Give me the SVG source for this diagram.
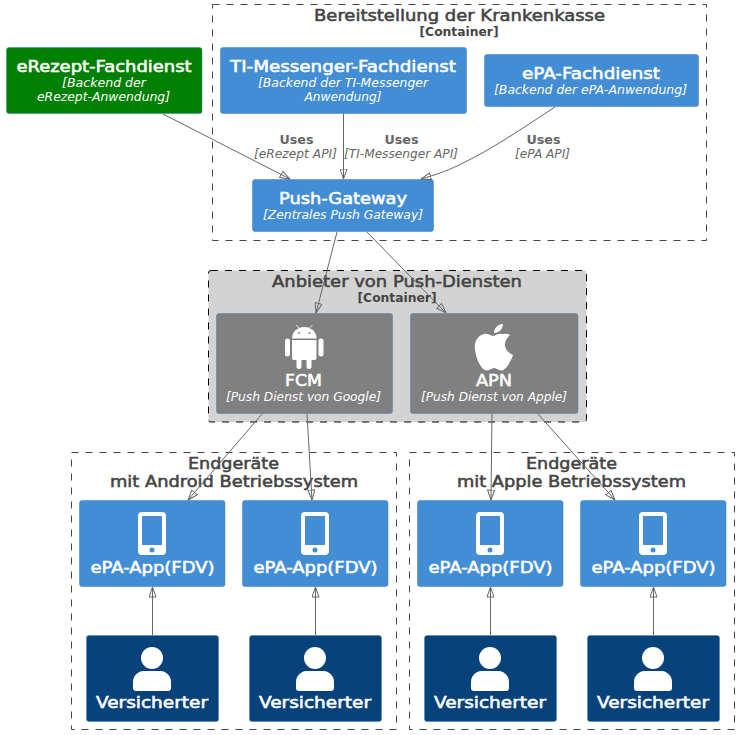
<svg xmlns="http://www.w3.org/2000/svg" width="739" height="735" viewBox="0 0 739 735">
<style>
text{font-family:"DejaVu Sans",Verdana,sans-serif;text-anchor:middle}
.b{fill:none;stroke:#444;stroke-width:1;stroke-dasharray:7 7}
.n{fill:#438DD5;stroke:#3C7FC0;stroke-width:.5}
.t{font-size:16px;fill:#fff;stroke:#fff;stroke-width:.55}
.d{font-size:12px;font-style:italic;fill:#fff}
.h{font-size:16px;fill:#444;stroke:#444;stroke-width:.55}
.c{font-size:12px;font-weight:700;fill:#444}
.l{font-size:12px;font-weight:700;fill:#666}
.li{font-size:12px;font-style:italic;fill:#666}
.e{fill:none;stroke:#666;stroke-width:1;marker-end:url(#a)}
.w{fill:#fff}
</style>
<defs>
<marker id="a" viewBox="0 0 11 8" refX="10.500" refY="4" markerWidth="11" markerHeight="8" markerUnits="userSpaceOnUse" orient="auto"><path d="M0.500 0.500L10.500 4L0.500 7.500Z" fill="none" stroke="#666" stroke-width="1"/></marker>
<g id="phone"><path class="w" fill-rule="evenodd" d="M-10 0H10A4 4 0 0 1 14 4V39A4 4 0 0 1 10 43H-10A4 4 0 0 1 -14 39V4A4 4 0 0 1 -10 0ZM-10 4V33H10V4Z"/><circle cx="0" cy="38" r="2.500" fill="#438DD5"/></g>
<g id="person"><circle class="w" cx="0" cy="11" r="11"/><path class="w" d="M-19 41V35C-19 28-13 24-9 24H9C13 24 19 28 19 35V41C19 43 18 44 16 44H-16C-18 44-19 43-19 41Z"/></g>
</defs>
<g id="boundary-kasse"><rect class="b" x="212.500" y="4.500" width="494" height="236"/><text class="h" x="459.500" y="21" textLength="291" lengthAdjust="spacingAndGlyphs">Bereitstellung der Krankenkasse</text><text class="c" x="459" y="35.500" textLength="79" lengthAdjust="spacingAndGlyphs">[Container]</text></g>
<g id="boundary-push"><rect x="208.500" y="270.500" width="378" height="151.500" rx="2.500" fill="#D3D3D3" stroke="#000" stroke-dasharray="7 7"/><text class="h" x="397" y="287" textLength="250" lengthAdjust="spacingAndGlyphs">Anbieter von Push-Diensten</text><text class="c" x="397" y="301.500" textLength="79" lengthAdjust="spacingAndGlyphs">[Container]</text></g>
<g id="boundary-android"><rect class="b" x="71.500" y="452.500" width="325" height="277"/><text class="h" x="233.500" y="469" textLength="91" lengthAdjust="spacingAndGlyphs">Endgeräte</text><text class="h" x="234" y="487" textLength="248" lengthAdjust="spacingAndGlyphs">mit Android Betriebssystem</text></g>
<g id="boundary-apple"><rect class="b" x="409.500" y="452.500" width="325" height="277"/><text class="h" x="571.500" y="469" textLength="91" lengthAdjust="spacingAndGlyphs">Endgeräte</text><text class="h" x="571.500" y="487" textLength="229" lengthAdjust="spacingAndGlyphs">mit Apple Betriebssystem</text></g>
<g id="erezept"><rect x="6.500" y="47.500" width="195.500" height="66" rx="2.500" fill="#008000" stroke="#3C7FC0" stroke-width=".5"/><text class="t" x="104" y="72" textLength="175" lengthAdjust="spacingAndGlyphs">eRezept-Fachdienst</text><text class="d" x="104" y="87" textLength="84" lengthAdjust="spacingAndGlyphs">[Backend der</text><text class="d" x="103.500" y="101" textLength="133" lengthAdjust="spacingAndGlyphs">eRezept-Anwendung]</text></g>
<g id="ti"><rect class="n" x="220.500" y="47.500" width="246" height="66" rx="2.500"/><text class="t" x="343" y="72" textLength="226" lengthAdjust="spacingAndGlyphs">TI-Messenger-Fachdienst</text><text class="d" x="343" y="87" textLength="170" lengthAdjust="spacingAndGlyphs">[Backend der TI-Messenger</text><text class="d" x="343" y="101" textLength="77" lengthAdjust="spacingAndGlyphs">Anwendung]</text></g>
<g id="epa"><rect class="n" x="484.500" y="54.500" width="214" height="52" rx="2.500"/><text class="t" x="591" y="79" textLength="138" lengthAdjust="spacingAndGlyphs">ePA-Fachdienst</text><text class="d" x="590.500" y="94" textLength="193" lengthAdjust="spacingAndGlyphs">[Backend der ePA-Anwendung]</text></g>
<g id="gateway"><rect class="n" x="252.500" y="179.500" width="181" height="52" rx="2.500"/><text class="t" x="343" y="204" textLength="128" lengthAdjust="spacingAndGlyphs">Push-Gateway</text><text class="d" x="343" y="219" textLength="160" lengthAdjust="spacingAndGlyphs">[Zentrales Push Gateway]</text></g>
<g id="fcm"><rect x="216.500" y="313.500" width="176" height="100" rx="2.500" fill="#808080" stroke="#3C7FC0" stroke-width=".5"/>
<g class="w"><path d="M292 340H316.500V358A2 2 0 0 1 314.500 360H294A2 2 0 0 1 292 358Z"/><path d="M292 338.500A12.250 11.500 0 0 1 316.500 338.500Z"/><rect x="285" y="338.500" width="5" height="18" rx="2.500"/><rect x="318.500" y="338.500" width="5" height="18" rx="2.500"/><rect x="296.500" y="355" width="5" height="14" rx="2.500"/><rect x="306.500" y="355" width="5" height="14" rx="2.500"/></g>
<path d="M299 328L296 325M309.500 328L312.500 325" stroke="#fff" fill="none" stroke-width=".8"/><circle cx="299" cy="333" r="1" fill="#808080"/><circle cx="309.500" cy="333" r="1" fill="#808080"/>
<text class="t" x="303.500" y="386" textLength="37" lengthAdjust="spacingAndGlyphs">FCM</text><text class="d" x="303.500" y="401" textLength="155" lengthAdjust="spacingAndGlyphs">[Push Dienst von Google]</text></g>
<g id="apn"><rect x="410.500" y="313.500" width="167.500" height="100" rx="2.500" fill="#808080" stroke="#3C7FC0" stroke-width=".5"/>
<path class="w" d="M502 334C497 333 496 336 493 336C490 336 488 333 484 334C477 336 474 342 475 350C476 358 481 370.500 487 370.500C490 370.500 491 368 494 368C497 368 498 370.500 501 370.500C506 370.500 511 361 513 355C508 353 505 349 505 345C505 340 508 337 510 335C507 333 504 334 502 334Z"/><path class="w" d="M494 333C494 328 498 324 503 324C503 329 499 333 494 333Z"/>
<text class="t" x="494" y="386" textLength="36" lengthAdjust="spacingAndGlyphs">APN</text><text class="d" x="494" y="401" textLength="146" lengthAdjust="spacingAndGlyphs">[Push Dienst von Apple]</text></g>
<g id="app1"><rect class="n" x="79.500" y="500.500" width="145.500" height="86" rx="2.500"/><use href="#phone" x="152" y="512"/><text class="t" x="152.500" y="573" textLength="124" lengthAdjust="spacingAndGlyphs">ePA-App(FDV)</text></g>
<g id="app2"><rect class="n" x="242.500" y="500.500" width="145.500" height="86" rx="2.500"/><use href="#phone" x="315" y="512"/><text class="t" x="315.500" y="573" textLength="124" lengthAdjust="spacingAndGlyphs">ePA-App(FDV)</text></g>
<g id="app3"><rect class="n" x="417.500" y="500.500" width="145.500" height="86" rx="2.500"/><use href="#phone" x="490" y="512"/><text class="t" x="490.500" y="573" textLength="124" lengthAdjust="spacingAndGlyphs">ePA-App(FDV)</text></g>
<g id="app4"><rect class="n" x="580.500" y="500.500" width="145.500" height="86" rx="2.500"/><use href="#phone" x="653" y="512"/><text class="t" x="653.500" y="573" textLength="124" lengthAdjust="spacingAndGlyphs">ePA-App(FDV)</text></g>
<g id="user1"><rect x="86.500" y="635.500" width="132" height="86" rx="2.500" fill="#08427B" stroke="#3C7FC0" stroke-width=".5"/><use href="#person" x="152" y="647"/><text class="t" x="152" y="708" textLength="112" lengthAdjust="spacingAndGlyphs">Versicherter</text></g>
<g id="user2"><rect x="249.500" y="635.500" width="132" height="86" rx="2.500" fill="#08427B" stroke="#3C7FC0" stroke-width=".5"/><use href="#person" x="315" y="647"/><text class="t" x="315" y="708" textLength="112" lengthAdjust="spacingAndGlyphs">Versicherter</text></g>
<g id="user3"><rect x="424.500" y="635.500" width="132" height="86" rx="2.500" fill="#08427B" stroke="#3C7FC0" stroke-width=".5"/><use href="#person" x="490" y="647"/><text class="t" x="490" y="708" textLength="112" lengthAdjust="spacingAndGlyphs">Versicherter</text></g>
<g id="user4"><rect x="587.500" y="635.500" width="132" height="86" rx="2.500" fill="#08427B" stroke="#3C7FC0" stroke-width=".5"/><use href="#person" x="653" y="647"/><text class="t" x="653" y="708" textLength="112" lengthAdjust="spacingAndGlyphs">Versicherter</text></g>
<g id="connectors">
<path class="e" d="M163 114L290 179"/>
<path class="e" d="M343.500 114V179"/>
<path class="e" d="M555 107C520 130 490 150 465 162C450 170 435 175 421 179"/>
<path class="e" d="M337 232L316 313"/>
<path class="e" d="M367 232L446 313"/>
<path class="e" d="M262 414L188 500"/>
<path class="e" d="M307 414L312 500"/>
<path class="e" d="M492 414L491 500"/>
<path class="e" d="M538 414L615 500"/>
<path class="e" d="M152.500 635V587"/>
<path class="e" d="M315.500 635V587"/>
<path class="e" d="M490.500 635V587"/>
<path class="e" d="M653.500 635V587"/>
</g>
<g id="labels"><text class="l" x="296.500" y="144" textLength="34" lengthAdjust="spacingAndGlyphs">Uses</text><text class="li" x="295.500" y="158" textLength="83" lengthAdjust="spacingAndGlyphs">[eRezept API]</text><text class="l" x="401.500" y="144" textLength="34" lengthAdjust="spacingAndGlyphs">Uses</text><text class="li" x="401" y="158" textLength="114" lengthAdjust="spacingAndGlyphs">[TI-Messenger API]</text><text class="l" x="543.500" y="144" textLength="34" lengthAdjust="spacingAndGlyphs">Uses</text><text class="li" x="542.500" y="158" textLength="55" lengthAdjust="spacingAndGlyphs">[ePA API]</text></g>
</svg>
